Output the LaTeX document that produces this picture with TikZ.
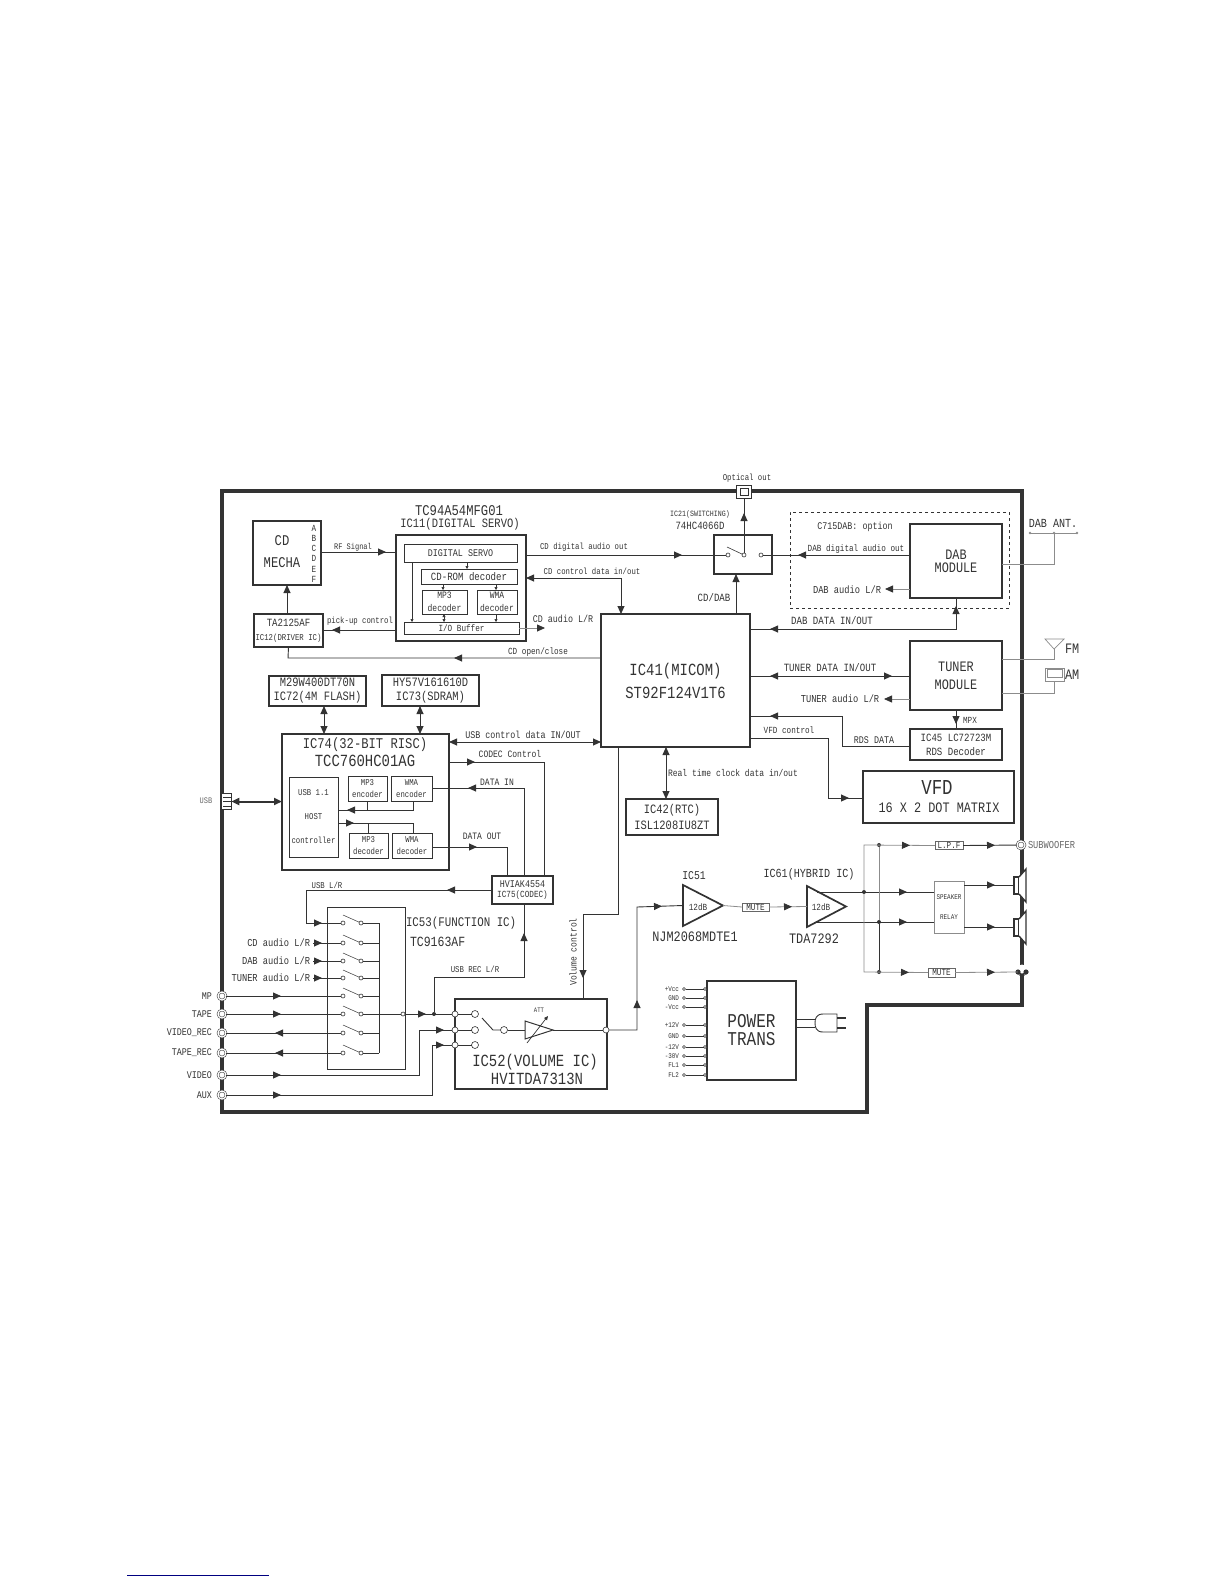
\documentclass[tikz,border=0pt]{standalone}
\usepackage{fontspec}
\usepackage{tikz}
\usetikzlibrary{shapes.geometric, arrows.meta, decorations.markings}
\newfontfamily\cad[FakeStretch=0.82]{Liberation Mono}
\newcommand{\fs}[2]{\pgfmathsetmacro{\fsize}{#1*0.85}\cad\fontsize{\fsize}{#2}\selectfont}
\definecolor{ink}{gray}{0.2}
\tikzset{
  chip/.style={rectangle, draw=ink, line width=1.7pt, inner sep=0pt, outer sep=0pt, align=center, text=ink},
  cell/.style={rectangle, draw=ink, line width=0.8pt, inner sep=0pt, outer sep=0pt, align=center, text=ink},
  lab/.style={inner sep=0pt, outer sep=0pt, align=center, text=ink, font={\fs{#1}{#1}}},
  wire/.style={draw=ink, line width=0.9pt},
  pale/.style={draw=black!45, line width=0.8pt},
  tipf/.style={postaction={decorate, decoration={markings, mark=at position #1pt with {\arrow{>}}}}},
  tipb/.style={postaction={decorate, decoration={markings, mark=at position #1pt with {\arrowreversed{>}}}}},
  tiny/.style={wire, line width=0.6pt, >={Triangle[length=3pt,width=3pt]}, ->},
  ring/.style={circle, draw=ink, line width=0.6pt, fill=white, inner sep=0pt, outer sep=0pt, minimum size=#1},
  jack/.style={circle, draw=black!70, line width=0.6pt, double=white, double distance=1.2pt, fill=white, inner sep=0pt, outer sep=0pt, minimum size=8pt},
  joint/.style={circle, fill=ink, inner sep=0pt, outer sep=0pt, minimum size=4pt},
  amp/.style={isosceles triangle, isosceles triangle stretches, draw=ink, line width=1.7pt, inner sep=0pt, outer sep=0pt, anchor=west}
}
\begin{document}
\begin{tikzpicture}[x=1pt, y=-1pt, >={Triangle[length=8pt,width=7pt,color=ink]}]
  \useasboundingbox (0,0) rectangle (1224,1584);
  % outer case
  \draw[draw=ink, line width=3.4pt] (222,491) -- (1022,491) -- (1022,1005) -- (867,1005) -- (867,1112) -- (222,1112) -- cycle;
  % CD section
  \node[chip, minimum width=68, minimum height=64] (mecha) at (287,553) {};
  \node[lab=17.5] (lcd) at (282,541) {CD};
  \node[lab=17.5] (lmecha) at (282,563) {MECHA};
  \foreach \ch [count=\i] in {A,B,C,D,E,F}
    \node[lab=11] (pin\i) at (314,{518+10.2*\i}) {\ch};
  \node[chip, minimum width=69, minimum height=33, font=\fs{10.5}{14}] (driver) at (288.5,630.5) {{\fs{13}{14}TA2125AF}\\IC12(DRIVER IC)};
  \node[chip, minimum width=130, minimum height=106] (ic11) at (461,588) {};
  \node[lab=17.5] (lic11) at (459,511) {TC94A54MFG01};
  \node[lab=15] (lic11b) at (460,524) {IC11(DIGITAL SERVO)};
  \node[cell, minimum width=113, minimum height=18, font=\fs{12}{12}] (servo) at (460.5,553) {DIGITAL SERVO};
  \node[cell, minimum width=96, minimum height=15, font=\fs{13}{13}] (cdrom) at (469,576.5) {CD-ROM decoder};
  \node[cell, minimum width=45, minimum height=24, font=\fs{11.5}{12.5}] (mp3dec) at (444.5,602) {MP3\\decoder};
  \node[cell, minimum width=40, minimum height=24, font=\fs{11.5}{12.5}] (wmadec) at (497,602) {WMA\\decoder};
  \node[cell, minimum width=115, minimum height=12, font=\fs{11}{11}] (iobuf) at (461.5,628) {I/O Buffer};
  \draw[tiny] (servo.south -| 467,0) -- (cdrom.north -| 467,0);
  \draw[tiny] (cdrom.south -| 443,0) -- (mp3dec.north -| 443,0);
  \draw[tiny] (cdrom.south -| 496,0) -- (wmadec.north -| 496,0);
  \draw[tiny, <->] (mp3dec.south -| 444,0) -- (iobuf.north -| 444,0);
  \draw[tiny] (wmadec.south -| 496,0) -- (iobuf.north -| 496,0);
  \draw[tiny] (servo.south -| 412,0) -- (iobuf.north -| 412,0);
  \draw[wire, tipf=65] (mecha.east |- 0,552) -- (ic11.west |- 0,552);
  \node[lab=10] (lrf) at (353,547) {RF Signal};
  \draw[wire, ->] (driver.north -| mecha.south) -- (mecha.south);
  \draw[wire, tipf=64] (ic11.west |- 0,630) -- (driver.east |- 0,630);
  \node[lab=10.5] (lpick) at (360,621) {pick-up control};
  % main micom
  \node[chip, minimum width=149, minimum height=133, font=\fs{20}{23}] (ic41) at (675.5,680.5) {IC41(MICOM)\\ST92F124V1T6};
  \draw[wire, tipf=147] (ic41.west |- 0,658) -- (288,658) -- (driver.south);
  \node[lab=11] (lopen) at (538,652) {CD open/close};
  % switch and optical
  \node[chip, minimum width=58, minimum height=39] (sw) at (743,554.5) {};
  \node[ring=4pt] (swa) at (728,555) {};
  \node[ring=4pt] (swb) at (744,555) {};
  \node[ring=4pt] (swc) at (761,555) {};
  \draw[wire, line width=0.6pt] (727,547) -- (swb);
  \node[chip, fill=white, minimum width=15, minimum height=13] (optical) at (744,492) {};
  \node[cell, minimum width=8, minimum height=7] (opticalin) at (744,492) {};
  \node[lab=10.5] (lopt) at (747,478) {Optical out};
  \node[lab=9.5] (lic21) at (700,514) {IC21(SWITCHING)};
  \node[lab=13] (lic21b) at (700,526) {74HC4066D};
  \draw[wire, tipf=40] (swb) -- (optical.south -| swb);
  \draw[wire, tipf=156] (ic11.east |- 0,555) -- (swa);
  \node[lab=10.5] (ldig) at (584,547) {CD digital audio out};
  \draw[wire, <->] (ic11.east |- 0,578) -| (ic41.north -| 621,0);
  \node[lab=10.5] (lctl) at (592,571) {CD control data in/out};
  \coordinate (cdaudioend) at (545,628);
  \draw[pale, ->] (iobuf.east) -- (cdaudioend);
  \node[lab=12] (lcdaudio) at (563,619) {CD audio L/R};
  \draw[wire, ->] (ic41.north -| 736,0) -- (sw.south -| 736,0);
  \node[lab=13] (lcddab) at (714,598) {CD/DAB};
  % DAB option
  \node[rectangle, draw=ink, dashed, line width=0.7pt, inner sep=0pt, minimum width=219, minimum height=96] (dabopt) at (899.5,560) {};
  \node[chip, minimum width=92, minimum height=74, font=\fs{17}{13}] (dab) at (956,561) {DAB\\MODULE};
  \node[lab=12] (lc715) at (855,527) {C715DAB: option};
  \draw[wire, tipf=112] (dab.west |- 0,555) -- (swc);
  \node[lab=11] (ldabdig) at (856,549) {DAB digital audio out};
  \coordinate (dabaudioend) at (885,589);
  \draw[pale, ->] (dab.west |- 0,589) -- (dabaudioend);
  \node[lab=12.5] (ldabaudio) at (847,590) {DAB audio L/R};
  \draw[wire, tipb=20, tipf=229] (ic41.east |- 0,629) -| (dab.south);
  \node[lab=13] (ldabdata) at (832,621) {DAB DATA IN/OUT};
  % antennas
  \coordinate (antl) at (1030,533);
  \coordinate (antm) at (1054,533);
  \coordinate (antr) at (1077,533);
  \draw[pale] (antl) -- (antr);
  \fill[black!45] (antl) circle (1.3pt) (antm) circle (1.3pt) (antr) circle (1.3pt);
  \draw[pale] (dab.east |- 0,564) -| (antm);
  \node[lab=14.5] (lant) at (1053,523) {DAB ANT.};
  \node[chip, minimum width=92, minimum height=69, font=\fs{17}{18}] (tuner) at (956,675.5) {TUNER\\MODULE};
  \draw[wire, tipb=20, tipf=142] (ic41.east |- 0,676) -- (tuner.west |- 0,676);
  \node[lab=13] (ltuner) at (830,668) {TUNER DATA IN/OUT};
  \coordinate (tuneraudioend) at (884,699);
  \draw[pale, ->] (tuner.west |- 0,699) -- (tuneraudioend);
  \node[lab=12.5] (ltuneraudio) at (840,699) {TUNER audio L/R};
  \coordinate (fmfoot) at (1054,649);
  \draw[pale, line width=0.7pt] (1045,639) -- (1064,639) -- (fmfoot) -- cycle;
  \draw[pale] (tuner.east |- 0,659) -| (fmfoot);
  \node[lab=17, anchor=west] (lfm) at (1065,649) {FM};
  \node[rectangle, draw=black!45, line width=0.8pt, inner sep=0pt, minimum width=19, minimum height=13] (amloop) at (1054.5,674.5) {};
  \node[rectangle, draw=black!45, line width=0.5pt, inner sep=0pt, minimum width=15, minimum height=8] (amcoil) at (1054.5,673.5) {};
  \draw[pale] (tuner.east |- 0,693) -| (amloop.south);
  \node[lab=17, anchor=west] (lam) at (1065,675) {AM};
  \node[chip, minimum width=92, minimum height=31, font=\fs{13}{14}] (ic45) at (956,744.5) {IC45 LC72723M\\RDS Decoder};
  \draw[wire, tipf=14] (tuner.south) -- (ic45.north);
  \node[lab=11] (lmpx) at (970,720) {MPX};
  \draw[wire, tipf=170] (ic45.west |- 0,746) -| (842,716) -- (ic41.east |- 0,716);
  \node[lab=12] (lrds) at (874,740) {RDS DATA};
  \node[chip, minimum width=151, minimum height=52] (vfd) at (938.5,797) {};
  \node[lab=25] (lvfd) at (937,787) {VFD};
  \node[lab=17] (lvfdb) at (939,808) {16 X 2 DOT MATRIX};
  \draw[wire, tipf=159] (ic41.east |- 0,738) -| (828,798) -- (vfd.west |- 0,798);
  \node[lab=11] (lvfdctl) at (789,730) {VFD control};
  \node[chip, minimum width=92, minimum height=36, font=\fs{15}{16}] (ic42) at (672,817) {IC42(RTC)\\ISL1208IU8ZT};
  \draw[wire, <->] (ic41.south -| 666,0) -- (ic42.north -| 666,0);
  \node[lab=11.5, anchor=west] (lrtc) at (668,773) {Real time clock data in/out};
  % memory and risc
  \node[chip, minimum width=97, minimum height=30, font=\fs{15}{14}] (flash) at (317.5,691) {M29W400DT70N\\IC72(4M FLASH)};
  \node[chip, minimum width=97, minimum height=31, font=\fs{15}{14}] (sdram) at (430.5,690.5) {HY57V161610D\\IC73(SDRAM)};
  \node[chip, minimum width=167, minimum height=136] (ic74) at (365.5,802) {};
  \node[lab=17.5] (lic74) at (365,745) {IC74(32-BIT RISC)};
  \node[lab=20] (lic74b) at (365,761) {TCC760HC01AG};
  \draw[wire, <->] (flash.south -| 324,0) -- (ic74.north -| 324,0);
  \draw[wire, <->] (sdram.south -| 420,0) -- (ic74.north -| 420,0);
  \node[cell, minimum width=49, minimum height=80, font=\fs{10.5}{24}] (host) at (313.5,817) {USB 1.1\\HOST\\controller};
  \node[cell, minimum width=39, minimum height=25, font=\fs{10.5}{11.5}] (mp3enc) at (367.5,788.5) {MP3\\encoder};
  \node[cell, minimum width=41, minimum height=25, font=\fs{10.5}{11.5}] (wmaenc) at (411.5,788.5) {WMA\\encoder};
  \node[cell, minimum width=39, minimum height=25, font=\fs{10.5}{11.5}] (mp3dect) at (368.5,845.5) {MP3\\decoder};
  \node[cell, minimum width=40, minimum height=25, font=\fs{10.5}{11.5}] (wmadect) at (412,845.5) {WMA\\decoder};
  \draw[wire, tipf=75] (wmaenc.south -| 413,0) |- (host.east |- 0,810);
  \draw[wire] (mp3enc.south) -- (mp3enc.south |- 0,810);
  \draw[wire, tipf=16] (host.east |- 0,823) -| (wmadect.north -| 413,0);
  \draw[wire] (mp3dect.north) -- (mp3dect.north |- 0,823);
  \node[rectangle, draw=ink, line width=0.8pt, fill=white, inner sep=0pt, minimum width=10, minimum height=16] (usbconn) at (226,801.5) {};
  \foreach \y in {797,801.5,806}
    \draw[wire, line width=0.7pt] (223,\y) -- (usbconn.east |- 0,\y);
  \node[lab=10, text=black!60] (lusb) at (206,801) {USB};
  \draw[wire, line width=2pt, <->] (usbconn.east) -- (ic74.west |- usbconn.east);
  \node[chip, minimum width=61, minimum height=28, font=\fs{12}{10}] (codec) at (522.5,890) {HVIAK4554\\{\fs{11}{10}IC75(CODEC)}};
  \draw[wire, <->] (ic74.east |- 0,742) -- (ic41.west |- 0,742);
  \node[lab=12] (lusbctl) at (523,735) {USB control data IN/OUT};
  \draw[wire, tipf=26] (ic74.east |- 0,762) -| (codec.north -| 544,0);
  \node[lab=11.5] (lcodecctl) at (510,754) {CODEC Control};
  \draw[wire, tipf=144] (codec.north -| 524,0) |- (wmaenc.east |- 0,788);
  \node[lab=11.5] (ldatain) at (497,782) {DATA IN};
  \draw[wire, tipf=45] (wmadect.east |- 0,847) -| (codec.north -| 507,0);
  \node[lab=11.5] (ldataout) at (482,836) {DATA OUT};
  % function ic
  \node[cell, minimum width=78, minimum height=162] (ic53) at (366,988) {};
  \node[lab=15.5, anchor=west] (lic53) at (406,923) {IC53(FUNCTION IC)};
  \node[lab=16.5, anchor=west] (lic53b) at (410,942) {TC9163AF};
  \coordinate (bustop) at (379,923);
  \coordinate (busbot) at (379,1053);
  \draw[wire] (bustop) -- (busbot);
  \foreach \y [count=\i] in {923,943,961,978,996,1014,1033,1053} {
    \node[ring=4pt] (ia\i) at (343,\y) {};
    \node[ring=4pt] (ib\i) at (361,\y) {};
    \draw[wire, line width=0.5pt] (343,\y-8) -- (ib\i);
    \draw[wire] (ib\i) -- (bustop |- ib\i);
  }
  \draw[wire, tipf=45, tipf=235] (codec.west |- 0,890) -- (306,890) -- (306,923) -- (ia1);
  \node[lab=10.5] (lusblr) at (327,885) {USB L/R};
  \foreach \txt/\k/\y in {{CD audio L/R}/2/943, {DAB audio L/R}/3/961, {TUNER audio L/R}/4/978} {
    \node[lab=12.5, anchor=east] (lin\k) at (310,\y) {\txt};
    \draw[wire, tipf=9] (lin\k.east) ++(3,0) -- (ia\k);
  }
  % jacks on the left edge
  \foreach \txt/\y [count=\i] in {MP/996, TAPE/1014, VIDEO\_REC/1033, TAPE\_REC/1053, VIDEO/1075, AUX/1095} {
    \node[jack] (jack\i) at (222,\y) {};
    \node[lab=12, anchor=east] (ljack\i) at (212,\y) {\txt};
  }
  \draw[wire, tipf=55] (jack1) -- (ia5);
  \draw[wire, tipf=55] (jack2) -- (ia6);
  \draw[wire, tipf=66] (ia7) -- (jack3);
  \draw[wire, tipf=66] (ia8) -- (jack4);
  % volume ic
  \node[chip, minimum width=152, minimum height=90] (ic52) at (531,1044) {};
  \node[lab=20] (lic52) at (535,1062) {IC52(VOLUME IC)};
  \node[lab=20] (lic52b) at (537,1079) {HVITDA7313N};
  \node[ring=6pt] (in1) at (455,1014) {};
  \node[ring=6pt] (in2) at (455,1030) {};
  \node[ring=6pt] (in3) at (455,1045) {};
  \node[ring=7pt] (sel1) at (475,1014) {};
  \node[ring=7pt] (sel2) at (475,1030) {};
  \node[ring=7pt] (sel3) at (475,1045) {};
  \draw[wire] (in1) -- (sel1);
  \draw[wire] (in2) -- (sel2);
  \draw[wire] (in3) -- (sel3);
  \node[ring=7pt] (pivot) at (504,1030) {};
  \draw[wire] (482,1018) -- (493,1030) -- (pivot);
  \node[amp, minimum width=18, minimum height=28, line width=1pt] (att) at (525,1030) {};
  \draw[wire] (pivot) -- (att.west);
  \draw[wire, line width=0.7pt, -{Triangle[length=4pt,width=3.5pt]}] (527,1043) -- (548,1016);
  \node[lab=8] (latt) at (539,1010) {ATT};
  \node[ring=6pt] (volout) at (606,1030) {};
  \draw[wire] (att.apex) -- (volout);
  \node[ring=4pt] (funcout) at (403,1014) {};
  \draw[wire] (ib6) -- (funcout);
  \draw[wire, tipf=21] (funcout) -- (in1);
  \node[joint] (recjoint) at (434,1014) {};
  \draw[wire, tipf=169] (recjoint) -- (434,977) -- (524,977) -- (codec.south -| 524,0);
  \node[lab=10.5] (lusbrec) at (475,969) {USB REC L/R};
  \draw[wire, tipf=55, tipf=263] (jack5) -- (419,1075) -- (419,1030) -- (in2);
  \draw[wire, tipf=55, tipf=268] (jack6) -- (432,1095) -- (432,1045) -- (in3);
  \draw[wire, tipf=266] (ic41.south -| 618,0) -- (618,914) -- (583,914) -- (ic52.north -| 583,0);
  \node[lab=11.5, rotate=90] (lvol) at (573,952) {Volume control};
  % amplifiers
  \node[amp, minimum width=41, minimum height=40] (amp51) at (683,905.5) {};
  \node[lab=11] (lamp51) at (698,907) {12dB};
  \node[lab=14] (lic51) at (694,876) {IC51};
  \node[lab=17] (lic51b) at (695,937) {NJM2068MDTE1};
  \node[cell, draw=black!60, minimum width=27, minimum height=8, font=\fs{11}{11}] (muteone) at (755.5,907) {MUTE};
  \node[amp, minimum width=41, minimum height=39] (amp61) at (807,906.5) {};
  \node[lab=11] (lamp61) at (821,907) {12dB};
  \node[lab=14.5] (lic61) at (809,874) {IC61(HYBRID IC)};
  \node[lab=17] (lic61b) at (814,939) {TDA7292};
  \draw[wire, tipf=58, tipf=176] (volout) -- (637,1030) -- (637,907) -- (amp51.west);
  \draw[pale] (amp51.apex) -- (muteone.west);
  \draw[pale, tipf=23] (muteone.east) -- (amp61.west);
  % speaker outputs
  \node[cell, draw=black!45, minimum width=30, minimum height=52, font=\fs{8.5}{20}] (relay) at (949,907) {SPEAKER\\RELAY};
  \node[cell, draw=black!60, minimum width=28, minimum height=8, font=\fs{11}{11}] (lpf) at (949,845.5) {L.P.F};
  \node[cell, draw=black!60, minimum width=27, minimum height=9, font=\fs{11}{11}] (mutetwo) at (941.5,972.5) {MUTE};
  \coordinate (ampupper) at (817,892);
  \coordinate (amplower) at (817,922);
  \draw[wire, tipf=90] (ampupper) -- (relay.west |- ampupper);
  \draw[wire, tipf=90] (amplower) -- (relay.west |- amplower);
  \node[joint] (railup) at (864,892) {};
  \node[joint] (taptop) at (879,845) {};
  \node[joint] (tapmid) at (879,922) {};
  \node[joint] (tapbot) at (879,972) {};
  \draw[pale, tipf=91] (railup) -- (864,845) -- (lpf.west);
  \draw[pale, tipf=123] (railup) -- (864,972) -- (mutetwo.west);
  \draw[pale] (taptop) -- (tapmid);
  \draw[wire] (tapmid) -- (tapbot);
  \node[jack] (subjack) at (1021,845) {};
  \node[lab=12.5, anchor=west, text=black!60] (lsub) at (1028,845) {SUBWOOFER};
  \node[circle, fill=white, inner sep=0pt, minimum size=9pt] (hpjack) at (1022,969) {};
  \draw[draw=ink, line width=0.8pt] (1018,972) arc (180:0:4);
  \fill[ink] (1018,972) circle (2.6pt) (1026,972) circle (2.6pt);
  \draw[wire, tipf=32] (lpf.east) -- (subjack);
  \draw[pale, tipf=40] (mutetwo.east) -- (1018,972);
  \node[cell, line width=1.5pt, fill=white, minimum width=5, minimum height=17] (spkup) at (1016.5,885.5) {};
  \node[cell, line width=1.5pt, fill=white, minimum width=5, minimum height=17] (spklow) at (1016.5,927.5) {};
  \draw[draw=ink, line width=1.4pt, fill=white] (spkup.north east) -- (1026,869) -- (1026,902) -- (spkup.south east);
  \draw[draw=ink, line width=1.4pt, fill=white] (spklow.north east) -- (1026,911) -- (1026,944) -- (spklow.south east);
  \draw[wire, tipf=31] (relay.east |- 0,885) -- (spkup.west |- 0,885);
  \draw[wire, tipf=31] (relay.east |- 0,927) -- (spklow.west |- 0,927);
  % power
  \node[chip, minimum width=89, minimum height=99, font=\fs{23}{18}] (power) at (751.5,1030.5) {POWER\\TRANS};
  \foreach \txt/\y [count=\i] in {+Vcc/989, GND/998, -Vcc/1007, +12V/1025, GND/1036, -12V/1047, -30V/1056, FL1/1065, FL2/1075} {
    \node[ring=3pt] (pinl\i) at (684,\y) {};
    \node[ring=3pt] (pinr\i) at (705,\y) {};
    \draw[wire, line width=0.6pt] (pinl\i) -- (pinr\i);
    \node[lab=8.5, anchor=east] (lpin\i) at (679,\y) {\txt};
  }
  \coordinate (plugup) at (815,1019);
  \coordinate (pluglow) at (815,1027);
  \draw[wire] (power.east |- plugup) -- (plugup);
  \draw[wire] (power.east |- pluglow) -- (pluglow);
  \draw[wire] (837,1014) -- (823,1014) .. controls (816,1014) and (815,1019) .. (815,1023) .. controls (815,1027) and (816,1032) .. (823,1032) -- (837,1032) -- cycle;
  \draw[wire, line width=1.2pt] (837,1018) -- (846,1018) (837,1028) -- (846,1028);
  % rule at the foot of the page
  \coordinate (rulel) at (127,1575);
  \coordinate (ruler) at (269,1575);
  \draw[draw=blue!50!black, line width=1pt] (rulel) -- (ruler);
\end{tikzpicture}
\end{document}
